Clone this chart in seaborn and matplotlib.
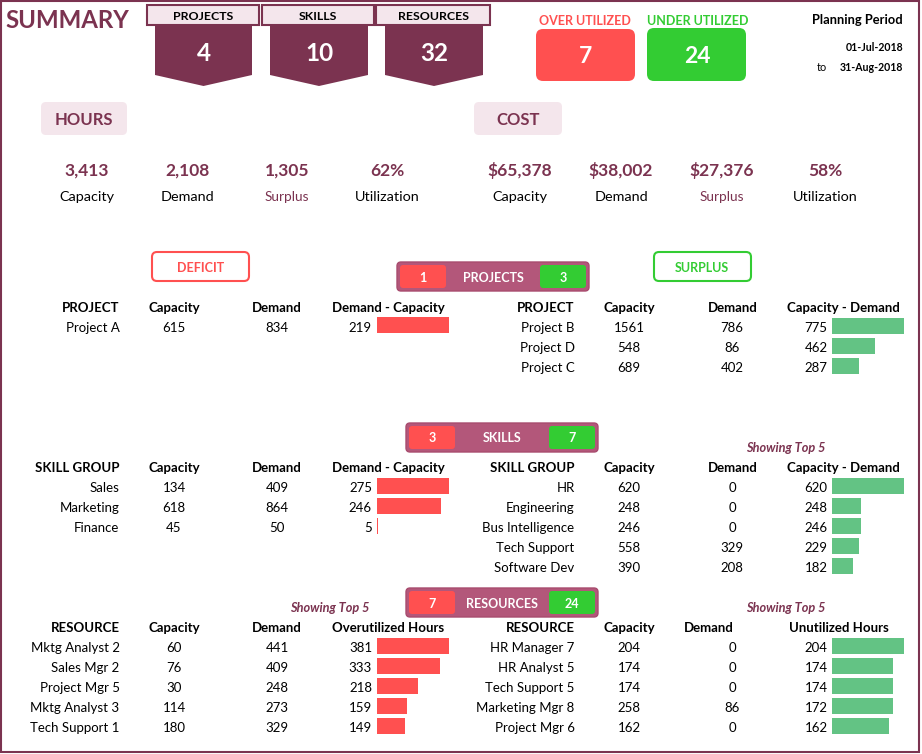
import matplotlib
matplotlib.use('Agg')
import matplotlib.pyplot as plt
from matplotlib.patches import FancyBboxPatch, Polygon, Rectangle
import seaborn as sns
import pandas as pd

# ---------------- data ----------------
summary_labels = ['PROJECTS', 'SKILLS', 'RESOURCES']
summary_counts = [4, 10, 32]
over_utilized = 7
under_utilized = 24
period_start = '01-Jul-2018'
period_end = '31-Aug-2018'

metric_labels = ['Capacity', 'Demand', 'Surplus', 'Utilization']
hours_values = ['3,413', '2,108', '1,305', '62%']
cost_values = ['$65,378', '$38,002', '$27,376', '58%']

proj_def_names = ['Project A']
proj_def_cap = [615]
proj_def_dem = [834]
proj_sur_names = ['Project B', 'Project D', 'Project C']
proj_sur_cap = [1561, 548, 689]
proj_sur_dem = [786, 86, 402]
proj_counts = [1, 3]

skill_def_names = ['Sales', 'Marketing', 'Finance']
skill_def_cap = [134, 618, 45]
skill_def_dem = [409, 864, 50]
skill_sur_names = ['HR', 'Engineering', 'Bus Intelligence', 'Tech Support', 'Software Dev']
skill_sur_cap = [620, 248, 246, 558, 390]
skill_sur_dem = [0, 0, 0, 329, 208]
skill_counts = [3, 7]

res_def_names = ['Mktg Analyst 2', 'Sales Mgr 2', 'Project Mgr 5', 'Mktg Analyst 3', 'Tech Support 1']
res_def_cap = [60, 76, 30, 114, 180]
res_def_dem = [441, 409, 248, 273, 329]
res_sur_names = ['HR Manager 7', 'HR Analyst 5', 'Tech Support 5', 'Marketing Mgr 8', 'Project Mgr 6']
res_sur_cap = [204, 174, 174, 258, 162]
res_sur_dem = [0, 0, 0, 86, 0]
res_counts = [7, 24]

# ---------------- style ----------------
MAR = '#7B3350'
RED = '#FF5050'
GREEN = '#33CC33'
BAR_RED = '#FF5050'
BAR_GREEN = '#63C384'
PINK = '#F4E6EC'
PILL = '#B3577A'
FONT = ['Lato', 'DejaVu Sans']
plt.rcParams['font.family'] = FONT

W, H = 922, 754
fig = plt.figure(figsize=(W / 100, H / 100), dpi=100)
ax = fig.add_axes([0, 0, 1, 1])
ax.set_xlim(0, W)
ax.set_ylim(H, 0)
ax.axis('off')


def txt(x, y, s, size, color='black', ha='center', weight='normal', style='normal'):
    ax.text(x, y, s, fontsize=size, color=color, ha=ha, va='baseline',
            fontweight=weight, fontstyle=style)


def rbox(x0, y0, x1, y1, fc, ec='none', lw=0, r=5):
    ax.add_patch(FancyBboxPatch((x0, y0), x1 - x0, y1 - y0,
                                boxstyle=f'round,pad=0,rounding_size={r}',
                                fc=fc, ec=ec, lw=lw))


# border
ax.add_patch(Rectangle((1, 1), 918, 751, fill=False, ec=MAR, lw=1.5))

# title
txt(5, 28, 'SUMMARY', 17.3, MAR, ha='left', weight='bold')

# top tabs
hdr_x0 = [147, 262, 376]
hdr_x1 = [259, 374, 490]
pent_x0 = [155, 270, 385]
pent_x1 = [252, 368, 483]
for lab, cnt, hx0, hx1, px0, px1 in zip(summary_labels, summary_counts, hdr_x0, hdr_x1, pent_x0, pent_x1):
    cx = (px0 + px1) / 2
    ax.add_patch(Polygon([(px0, 25), (px1, 25), (px1, 75), (cx, 86), (px0, 75)], closed=True, fc=MAR, ec='none'))
    ax.add_patch(Rectangle((hx0, 5), hx1 - hx0, 20, fc=PINK, ec=MAR, lw=1.5))
    txt((hx0 + hx1) / 2, 20, lab, 8.9, 'black', weight='bold')
    txt(cx, 61, str(cnt), 17.5, 'white', weight='bold')

# over / under
txt(585, 25, 'OVER UTILIZED', 9, RED, weight='bold')
rbox(536, 29, 635, 81, RED, r=7)
txt(585, 63, str(over_utilized), 16.5, 'white', weight='bold')
txt(698, 25, 'UNDER UTILIZED', 9, GREEN, weight='bold')
rbox(647, 28, 746, 81, GREEN, r=7)
txt(697, 63, str(under_utilized), 16.5, 'white', weight='bold')

# planning period
txt(903, 24, 'Planning Period', 9.3, 'black', ha='right', weight='bold')
txt(903, 51, period_start, 7.6, 'black', ha='right', weight='bold')
txt(817, 71, 'to', 7.8, 'black', ha='left')
txt(903, 71, period_end, 7.6, 'black', ha='right', weight='bold')

# hours / cost
rbox(41, 102, 127, 135, PINK, r=5)
txt(84, 125, 'HOURS', 12, MAR, weight='bold')
rbox(474, 102, 562, 135, PINK, r=5)
txt(518, 125, 'COST', 12, MAR, weight='bold')
hours_x = [87, 187, 287, 387]
cost_x = [520, 621, 722, 825]
for xs, vals in ((hours_x, hours_values), (cost_x, cost_values)):
    for x, v, lab in zip(xs, vals, metric_labels):
        txt(x, 176, v, 12.5, MAR, weight='bold')
        if lab == 'Surplus':
            txt(x, 201, lab, 9.8, MAR)
        else:
            txt(x, 201, lab, 10.4, 'black')

# deficit / surplus
rbox(152, 252, 249, 281, 'white', ec=RED, lw=1.5, r=5)
txt(201, 272, 'DEFICIT', 9, RED, weight='bold')
rbox(654, 252, 751, 281, 'white', ec=GREEN, lw=1.5, r=5)
txt(702, 272, 'SURPLUS', 9, GREEN, weight='bold')


def pill(x0, y0, label, counts):
    x1, y1 = x0 + 192, y0 + 29
    rbox(x0, y0, x1, y1, PILL, ec='#A84C6E', lw=1, r=4)
    rbox(x0 + 3, y0 + 3, x0 + 49, y1 - 3, RED, r=3)
    rbox(x1 - 49, y0 + 3, x1 - 3, y1 - 3, GREEN, r=3)
    yb = (y0 + y1) / 2 + 5
    txt(x0 + 26, yb, str(counts[0]), 9, 'white', weight='bold')
    txt((x0 + x1) / 2, yb, label, 9, 'white', weight='bold')
    txt(x1 - 26, yb, str(counts[1]), 9, 'white', weight='bold')


pill(397, 262, 'PROJECTS', proj_counts)
pill(406, 423, 'SKILLS', skill_counts)
pill(406, 588, 'RESOURCES', res_counts)

TS = 9.5


def table(names, cap, dem, diff, headers, base, cols, bar_x, color):
    name_r, cap_c, demh_c, demv_c, diffh_c, diffv_r = cols
    txt(name_r, base, headers[0], TS, ha='right', weight='bold')
    txt(cap_c, base, headers[1], TS, weight='bold')
    txt(demh_c, base, headers[2], TS, weight='bold')
    txt(diffh_c, base, headers[3], TS, weight='bold')
    for i, (nm, c, d, df_) in enumerate(zip(names, cap, dem, diff)):
        y = base + 20 * (i + 1)
        txt(name_r, y, nm, TS, ha='right')
        txt(cap_c, y, str(c), TS)
        txt(demv_c, y, str(d), TS)
        txt(diffv_r, y, str(df_), TS, ha='right')
    n = len(names)
    top = base + 20 - 6.5 - 10
    bax = fig.add_axes([bar_x / W, 1 - (top + 20 * n) / H, 72 / W, 20 * n / H])
    data = pd.DataFrame({'name': names, 'value': diff})
    sns.barplot(data=data, x='value', y='name', orient='h', color=color, saturation=1,
                width=0.8, linewidth=0, errorbar=None, ax=bax)
    bax.set_xlim(0, max(diff))
    bax.set_ylim(n - 0.5, -0.5)
    bax.axis('off')


LEFT = (119.5, 174, 277, 277, 388.5, 372)
RIGHT = (574.5, 629, 732.5, 732, 843, 827.5)

# projects
table(proj_def_names, proj_def_cap, proj_def_dem,
      [d - c for c, d in zip(proj_def_cap, proj_def_dem)],
      ['PROJECT', 'Capacity', 'Demand', 'Demand - Capacity'], 312, LEFT, 377, BAR_RED)
table(proj_sur_names, proj_sur_cap, proj_sur_dem,
      [c - d for c, d in zip(proj_sur_cap, proj_sur_dem)],
      ['PROJECT', 'Capacity', 'Demand', 'Capacity - Demand'], 312, RIGHT, 832, BAR_GREEN)

# skills
table(skill_def_names, skill_def_cap, skill_def_dem,
      [d - c for c, d in zip(skill_def_cap, skill_def_dem)],
      ['SKILL GROUP', 'Capacity', 'Demand', 'Demand - Capacity'], 472.5, LEFT, 377, BAR_RED)
table(skill_sur_names, skill_sur_cap, skill_sur_dem,
      [c - d for c, d in zip(skill_sur_cap, skill_sur_dem)],
      ['SKILL GROUP', 'Capacity', 'Demand', 'Capacity - Demand'], 472.5, RIGHT, 832, BAR_GREEN)
txt(786, 452, 'Showing Top 5', 9.2, MAR, weight='bold', style='italic')

# resources
table(res_def_names, res_def_cap, res_def_dem,
      [d - c for c, d in zip(res_def_cap, res_def_dem)],
      ['RESOURCE', 'Capacity', 'Demand', 'Overutilized Hours'], 632.5, LEFT, 377, BAR_RED)
table(res_sur_names, res_sur_cap, res_sur_dem,
      [c - d for c, d in zip(res_sur_cap, res_sur_dem)],
      ['RESOURCE', 'Capacity', 'Demand', 'Unutilized Hours'], 632.5,
      (574.5, 629, 709, 732, 838.5, 827.5), 832, BAR_GREEN)
txt(330, 612, 'Showing Top 5', 9.2, MAR, weight='bold', style='italic')
txt(786, 612, 'Showing Top 5', 9.2, MAR, weight='bold', style='italic')

fig.savefig('out.png', dpi=100)
